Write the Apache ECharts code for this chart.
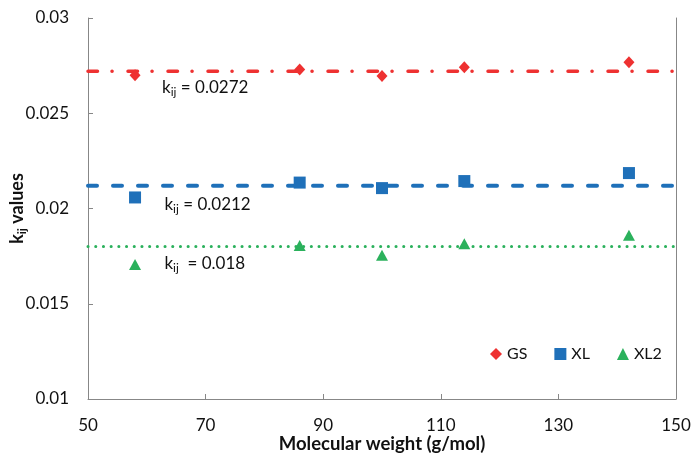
<!DOCTYPE html>
<html>
<head>
<meta charset="utf-8">
<script src="https://cdn.jsdelivr.net/npm/echarts@6/dist/echarts.min.js"></script>
<style>html,body{margin:0;padding:0;background:#fff;}#c{width:691px;height:454px;}</style>
</head>
<body>
<div id="c"></div>
<script>
var molWeight = [58, 86, 100, 114, 142];
var gsValues = [0.0270, 0.0273, 0.02695, 0.02742, 0.02768];
var xlValues = [0.02058, 0.02136, 0.02107, 0.02144, 0.02186];
var xl2Values = [0.01706, 0.01806, 0.01754, 0.01815, 0.01860];
var fitNames = ['GS fit', 'XL fit', 'XL2 fit'];
var fitValues = [0.0272, 0.0212, 0.018];
var fitLabels = ['0.0272', '0.0212', '0.018'];
var fitRange = [50, 150];
var xTicks = [50, 70, 90, 110, 130, 150];
var yTicks = [0.01, 0.015, 0.02, 0.025, 0.03];

var FONT = 'Lato';
var red = '#EE3131', blue = '#1F70B9', green = '#2BB15C';

function pairs(xs, ys) { return xs.map(function (x, i) { return [x, ys[i]]; }); }

var labelPos = [[62.6, 0.02636], [63.0, 0.02022], [63.0, 0.01712]];
var fitColors = [red, blue, green];
var fitDash = [[9.5, 14.5, 0.1, 15.9], [9, 16], [0.1, 7.6]];
var fitWidth = [3.5, 4, 3];
var eqSep = [' = ', ' = ', '  = '];

var series = [];
fitValues.forEach(function (v, i) {
  series.push({
    name: fitNames[i], type: 'line', symbol: 'none', z: 2,
    data: fitRange.map(function (x) { return [x, v]; }),
    lineStyle: { color: fitColors[i], width: fitWidth[i], type: fitDash[i], cap: 'round' },
    markPoint: {
      symbol: 'circle', symbolSize: 0, silent: true,
      data: [{
        coord: labelPos[i],
        label: {
          show: true, position: 'right', distance: 0,
          formatter: '{k|k}{s|ij}{n|' + eqSep[i] + fitLabels[i] + '}',
          rich: {
            k: { fontFamily: FONT, fontSize: 17, color: '#111' },
            s: { fontFamily: FONT, fontSize: 12, color: '#111', padding: [10, 0, 0, 0] },
            n: { fontFamily: FONT, fontSize: 17, color: '#111' }
          }
        }
      }]
    }
  });
});
series.push({ name: 'GS', type: 'scatter', symbol: 'diamond', symbolSize: [11, 12], z: 5,
  itemStyle: { color: red, opacity: 1 }, data: pairs(molWeight, gsValues) });
series.push({ name: 'XL', type: 'scatter', symbol: 'rect', symbolSize: 12, z: 5,
  itemStyle: { color: blue, opacity: 1 }, data: pairs(molWeight, xlValues) });
series.push({ name: 'XL2', type: 'scatter', symbol: 'triangle', symbolSize: [12, 11], z: 5,
  itemStyle: { color: green, opacity: 1 }, data: pairs(molWeight, xl2Values) });

var axisGrey = '#878787';
var option = {
  animation: false,
  backgroundColor: '#fff',
  grid: { left: 88, right: 15, top: 18, bottom: 55, outerBoundsMode: 'none', containLabel: false },
  legend: {
    data: [
      { name: 'GS', icon: 'diamond' },
      { name: 'XL', icon: 'rect' },
      { name: 'XL2', icon: 'triangle' }
    ],
    left: 485, top: 341, itemWidth: 12, itemHeight: 12, itemGap: 27,
    textStyle: { fontFamily: FONT, fontSize: 16, color: '#111' }
  },
  xAxis: {
    type: 'value', min: 50, max: 150, interval: 20,
    name: 'Molecular weight (g/mol)', nameLocation: 'middle', nameGap: 36, nameMoveOverlap: false,
    nameTextStyle: { fontFamily: FONT, fontSize: 18.5, fontWeight: 'bold', color: '#111' },
    axisLine: { show: true, lineStyle: { color: axisGrey, width: 1 } },
    axisTick: { show: true, inside: true, length: 5, lineStyle: { color: axisGrey } },
    axisLabel: { margin: 18, fontFamily: FONT, fontSize: 17, color: '#111',
      customValues: xTicks },
    splitLine: { show: false }
  },
  yAxis: [{
    type: 'value', min: 0.01, max: 0.03, interval: 0.005,
    name: '{k|k}{s|ij}{k| values}', nameLocation: 'middle', nameGap: 60, nameMoveOverlap: false,
    nameTextStyle: { rich: {
      k: { fontFamily: FONT, fontSize: 18, fontWeight: 'bold', color: '#111' },
      s: { fontFamily: FONT, fontSize: 12, fontWeight: 'bold', color: '#111', padding: [10, 0, 0, 0] }
    } },
    axisLine: { show: true, lineStyle: { color: axisGrey, width: 1 } },
    axisTick: { show: true, inside: true, length: 5, lineStyle: { color: axisGrey } },
    axisLabel: { margin: 19, fontFamily: FONT, fontSize: 17, color: '#111',
      formatter: function (v) { return String(+v.toFixed(3)); } },
    splitLine: { show: false }
  }, {
    type: 'value', min: 0.01, max: 0.03, position: 'right',
    axisLine: { show: true, lineStyle: { color: axisGrey, width: 1 } },
    axisTick: { show: false }, axisLabel: { show: false }, splitLine: { show: false }
  }],
  series: series
};
var chart = echarts.init(document.getElementById('c'), null, { renderer: 'canvas' });
chart.setOption(option);
</script>
</body>
</html>
